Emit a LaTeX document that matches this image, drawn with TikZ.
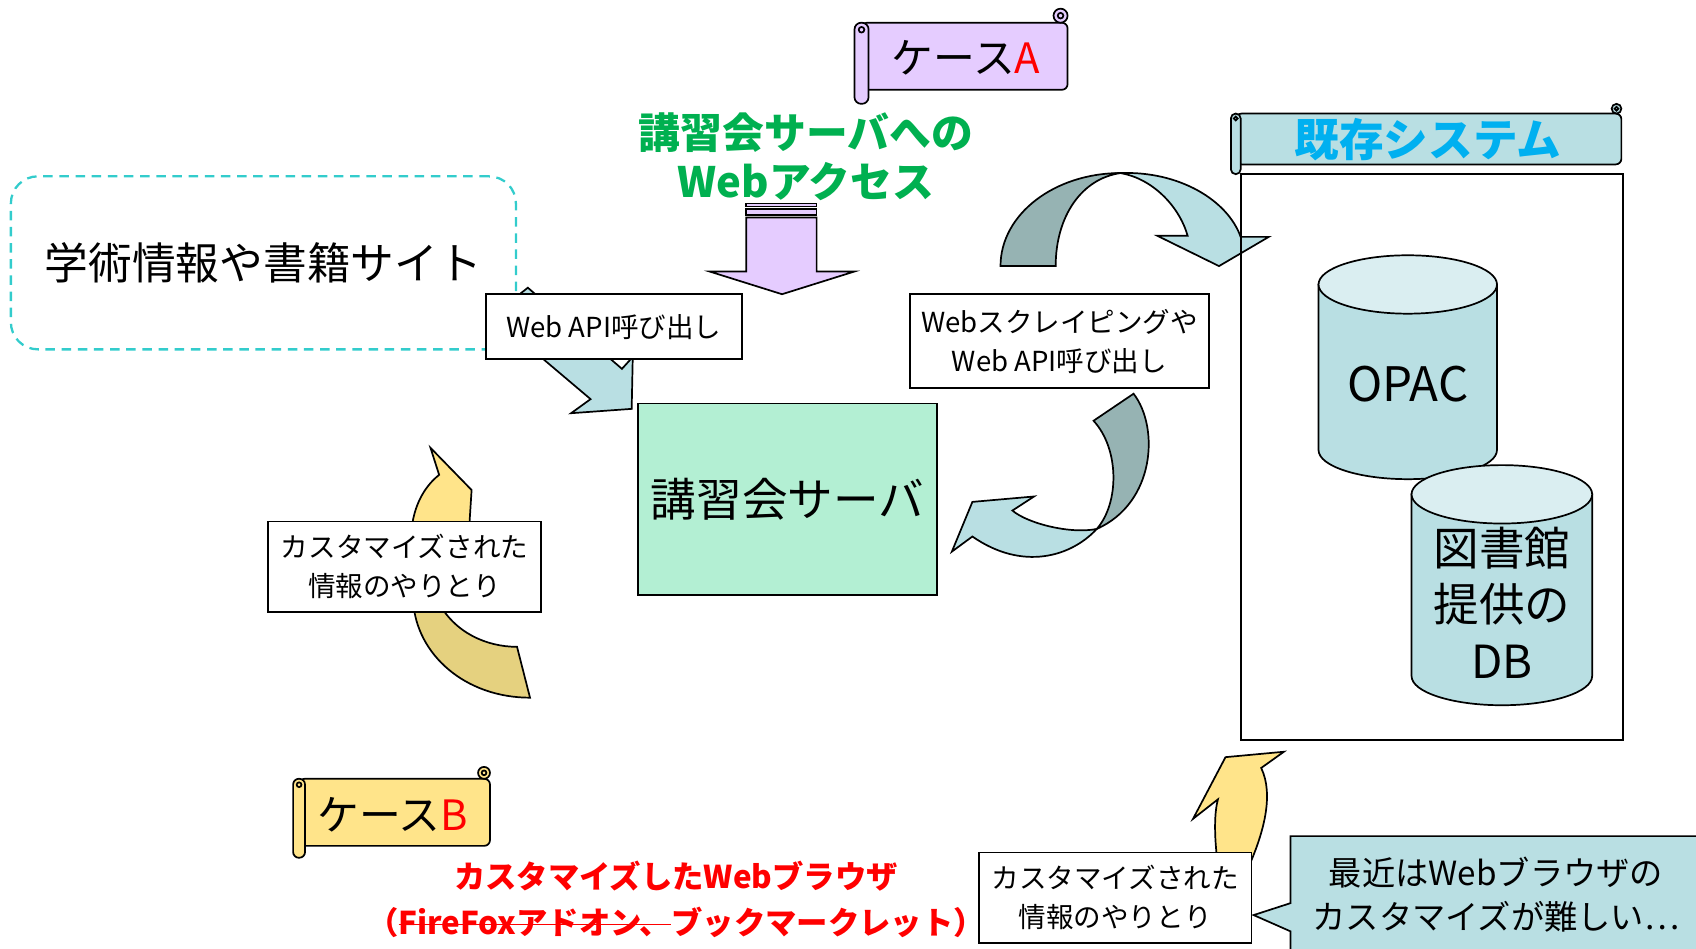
\documentclass[tikz,border=0pt]{standalone}
\usepackage{fontspec}
\setmainfont{Noto Sans CJK JP}
\usepackage{tikz}
\usetikzlibrary{positioning}

\definecolor{lavender}{HTML}{E5CCFF}
\definecolor{siteCyan}{HTML}{33CCCC}
\definecolor{paleBlue}{HTML}{B9DFE3}
\definecolor{topBlue}{HTML}{DAEEF1}
\definecolor{darkTeal}{HTML}{96B3B3}
\definecolor{mint}{HTML}{B3EFD3}
\definecolor{paleYellow}{HTML}{FFE48A}
\definecolor{darkYellow}{HTML}{E5D17F}
\definecolor{accessGreen}{HTML}{00B050}
\definecolor{sysBlue}{HTML}{00B0F0}

% left, top, right, bottom, roll size, fill, roll rounding
\newcommand{\scrollbox}[7]{%
  \filldraw[fill=#6, rounded corners=3pt] ({#1+#5/2},#2) rectangle (#3,#4);
  \filldraw[fill=#6] ({#3-#5/2},{#2-#5/2}) circle[radius=#5/2];
  \draw ({#3-#5/2},{#2-#5/2}) circle[radius=#5/5];
  \filldraw[fill=#6, rounded corners=#7] (#1,#2) rectangle ({#1+#5},{#4+#5});
  \draw ({#1+#5/2},{#2+#5/2}) circle[radius=#5/5];
}
\newcommand{\strikeout}[1]{\setbox0\hbox{#1}\rlap{\rule[0.3em]{\wd0}{0.9pt}}\box0}

\begin{document}
\begin{tikzpicture}[x=0.02cm, y=-0.02cm, node distance=2cm, line width=0.9pt,
    infobox/.style={draw, fill=white, align=center, inner sep=1pt, font=\fontsize{14.5}{20.4}\selectfont}]
  \useasboundingbox (0,0) rectangle (1568,877);
  \clip (0,0) rectangle (1568,877);

  \node[draw=siteCyan, dash pattern=on 5pt off 3.5pt, line width=1.2pt, rounded corners=0.5cm,
        minimum width=9.34cm, minimum height=3.2cm, font=\fontsize{23}{28}\selectfont] (site) at (243.5,243) {学術情報や書籍サイト};
  \filldraw[fill=paleBlue] (455,292) -- (488,266) -- (575,341) -- (585,330) -- (584,378) -- (528,382) -- (546,369) -- cycle;
  \node[infobox, minimum width=4.74cm, minimum height=1.2cm] (api) at (567.5,302) {Web API呼び出し};

  \filldraw[fill=lavender] (690,188) rectangle (755,191);
  \filldraw[fill=lavender] (690,193) rectangle (755,199);
  \filldraw[fill=lavender] (690,201) -- (755,201) -- (755,251) -- (790,251) -- (723,272) -- (656,251) -- (690,251) -- cycle;

  \scrollbox{790}{21}{987}{83}{13}{lavender}{3.5pt}
  \node[font=\fontsize{22}{26}\selectfont] (caseA) at (893,53) {ケース\textcolor{red}{A}};
  \node[align=center, text=accessGreen, font=\bfseries\fontsize{22}{26.1}\selectfont] (access) at (745,145) {講習会サーバへの\\Webアクセス};

  \filldraw[fill=darkTeal] (925,246) .. controls (925,198) and (975,160) .. (1036,160) .. controls (1000,165) and (976,200) .. (976,246) -- cycle;
  \filldraw[fill=paleBlue] (1036,160) .. controls (1090,158) and (1135,185) .. (1147,219) -- (1173,219) -- (1127,246) -- (1070,218) -- (1098,218) .. controls (1090,190) and (1065,165) .. (1036,160) -- cycle;

  \scrollbox{1138}{105}{1499}{152}{9}{paleBlue}{2.5pt}
  \node[text=sysBlue, font=\bfseries\fontsize{23.5}{28}\selectfont] (sysTitle) at (1320,129) {既存システム};
  \node[draw, minimum width=7.06cm, minimum height=10.48cm] (system) at (1324,422.5) {};

  \filldraw[fill=paleBlue] (1219,263) -- (1219,416) arc[start angle=180, end angle=0, x radius=82.5, y radius=27] -- (1384,263) -- cycle;
  \filldraw[fill=topBlue] (1301.5,263) ellipse[x radius=82.5, y radius=27];
  \node[font=\fontsize{25}{30}\selectfont] (opac) at (1301.5,355) {OPAC};
  \filldraw[fill=paleBlue] (1305,457) -- (1305,625) arc[start angle=180, end angle=0, x radius=83.5, y radius=27] -- (1472,457) -- cycle;
  \filldraw[fill=topBlue] (1388.5,457) ellipse[x radius=83.5, y radius=27];
  \node[align=center, font=\fontsize{24}{29.8}\selectfont] (libdb) at (1388.5,557) {図書館\\提供の\\DB};

  \node[infobox, minimum width=5.54cm, minimum height=1.74cm] (scrape) at (979.5,315.5) {Webスクレイピングや\\Web API呼び出し};
  \filldraw[fill=darkTeal] (1011,389) -- (1048,364) .. controls (1072,395) and (1068,465) .. (1014,489) .. controls (1035,465) and (1035,415) .. (1011,389) -- cycle;
  \filldraw[fill=paleBlue] (880,510) -- (899,464) -- (956,459) -- (936,472) .. controls (950,484) and (990,494) .. (1014,489) .. controls (990,515) and (945,528) .. (899,496) -- cycle;

  \node[draw, fill=mint, minimum width=5.52cm, minimum height=3.54cm, font=\fontsize{24}{29}\selectfont] (server) at (728,461.5) {講習会サーバ};

  \filldraw[fill=darkYellow] (382,556) .. controls (385,605) and (430,645) .. (490,645) -- (478,598) .. controls (450,598) and (420,585) .. (405,556) -- cycle;
  \filldraw[fill=paleYellow] (398,414) -- (436,453) -- (433,500) -- (380,500) .. controls (380,470) and (392,450) .. (406,439) -- cycle;
  \node[infobox, minimum width=5.04cm, minimum height=1.68cm] (xchgL) at (374,524) {カスタマイズされた\\情報のやりとり};

  \scrollbox{271}{720}{453}{782}{11}{paleYellow}{3pt}
  \node[font=\fontsize{22}{26}\selectfont] (caseB) at (363,753) {ケース\textcolor{red}{B}};
  \node[align=center, text=red, font=\bfseries\fontsize{16.5}{24.4}\selectfont] (browser) at (625,831.5)
    {カスタマイズしたWebブラウザ\\\mbox{\kern-.4em（\strikeout{FireFoxアドオン、}ブックマークレット）\kern-.4em}};

  \filldraw[fill=paleYellow] (1126,800) .. controls (1122,770) and (1123,750) .. (1126,739) -- (1103,757) -- (1133,700) -- (1187,695) -- (1166,710) .. controls (1178,735) and (1168,770) .. (1155,800) -- cycle;
  \node[infobox, minimum width=5.04cm, minimum height=1.68cm] (xchgR) at (1031,830) {カスタマイズされた\\情報のやりとり};
  \filldraw[fill=paleBlue] (1193,773) -- (1600,773) -- (1600,900) -- (1193,900) -- (1193,861) -- (1159,846) -- (1193,835) -- cycle;
  \node[align=center, font=\fontsize{17.5}{23.2}\selectfont] (note) at (1383,827.5) {最近はWebブラウザの\\カスタマイズが難しい…};
\end{tikzpicture}
\end{document}
